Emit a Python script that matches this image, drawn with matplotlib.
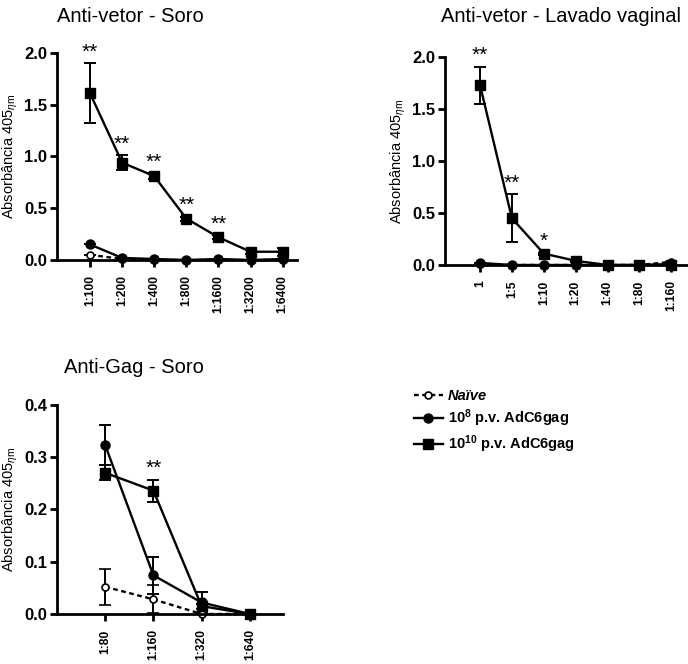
import matplotlib.pyplot as plt
from matplotlib.lines import Line2D

plt.rcParams['font.family'] = ['Liberation Sans', 'DejaVu Sans']
plt.rcParams['mathtext.fontset'] = 'custom'
plt.rcParams['mathtext.rm'] = 'Liberation Sans'
plt.rcParams['mathtext.it'] = 'Liberation Sans:italic'
plt.rcParams['mathtext.bf'] = 'Liberation Sans:bold'

# ---- data ----
soro_labels = ["1:100", "1:200", "1:400", "1:800", "1:1600", "1:3200", "1:6400"]
soro_naive = [0.05, 0.01, 0.0, 0.0, 0.0, 0.0, 0.0]
soro_naive_err = [0.0, 0.0, 0.0, 0.0, 0.0, 0.0, 0.0]
soro_e8 = [0.15, 0.02, 0.01, 0.0, 0.01, 0.0, 0.01]
soro_e8_err = [0.0, 0.0, 0.0, 0.0, 0.0, 0.0, 0.0]
soro_e10 = [1.61, 0.94, 0.81, 0.40, 0.22, 0.08, 0.08]
soro_e10_err = [0.29, 0.07, 0.03, 0.02, 0.02, 0.02, 0.04]
soro_stars = ["**", "**", "**", "**", "**", "", ""]

lav_labels = ["1", "1:5", "1:10", "1:20", "1:40", "1:80", "1:160"]
lav_naive = [0.01, 0.0, 0.0, 0.0, 0.0, 0.0, 0.03]
lav_naive_err = [0.0, 0.0, 0.0, 0.0, 0.0, 0.0, 0.0]
lav_e8 = [0.02, 0.0, 0.0, 0.0, 0.0, 0.0, 0.01]
lav_e8_err = [0.0, 0.0, 0.0, 0.0, 0.0, 0.0, 0.0]
lav_e10 = [1.73, 0.45, 0.11, 0.04, 0.0, 0.0, 0.0]
lav_e10_err = [0.18, 0.23, 0.01, 0.01, 0.0, 0.0, 0.0]
lav_stars = ["**", "**", "*", "", "", "", ""]

gag_labels = ["1:80", "1:160", "1:320", "1:640"]
gag_naive = [0.052, 0.028, 0.0, 0.0]
gag_naive_err = [0.034, 0.027, 0.0, 0.0]
gag_e8 = [0.323, 0.074, 0.022, 0.0]
gag_e8_err = [0.039, 0.035, 0.021, 0.0]
gag_e10 = [0.270, 0.236, 0.015, 0.0]
gag_e10_err = [0.014, 0.021, 0.005, 0.0]
gag_stars = ["", "**", "", ""]

fig = plt.figure(figsize=(6.88, 6.64), dpi=100)


def panel(rect, title, labels, naive, naive_err, e8, e8_err, e10, e10_err,
          stars, ymax, yticks, xlim, title_x, title_y):
    ax = fig.add_axes(rect)
    x = list(range(len(labels)))
    common = dict(color="black", linewidth=1.7, capsize=4.5, elinewidth=1.4,
                  capthick=1.4, clip_on=False)
    ax.errorbar(x, naive, yerr=naive_err, fmt="o", linestyle=(0, (2, 1.5)),
                markersize=5, markerfacecolor="white", markeredgewidth=1.2,
                **common)
    ax.errorbar(x, e8, yerr=e8_err, fmt="o-", markersize=6.5, **common)
    ax.errorbar(x, e10, yerr=e10_err, fmt="s-", markersize=7.5, **common)
    for xi, v, e, s in zip(x, e10, e10_err, stars):
        if s:
            ax.annotate(s, (xi, v + e), xytext=(0, 1), textcoords="offset points",
                        ha="center", va="bottom", fontsize=15)
    ax.set_xlim(*xlim)
    ax.set_ylim(0, ymax)
    ax.set_xticks(x)
    ax.set_xticklabels(labels, rotation=90, fontsize=8.7, fontweight="bold")
    ax.set_yticks(yticks)
    ax.set_yticklabels([f"{t:.1f}" for t in yticks], fontsize=12, fontweight="bold")
    for sp in ["top", "right"]:
        ax.spines[sp].set_visible(False)
    for sp in ["left", "bottom"]:
        ax.spines[sp].set_linewidth(2)
    ax.tick_params(width=2, length=5, direction="out", pad=2)
    ax.tick_params(axis="x", pad=6)
    ax.set_ylabel(r"Absorbância 405$_{\eta\mathrm{m}}$", fontsize=10.5, labelpad=3)
    fig.text(title_x, title_y, title, ha="center", va="center", fontsize=14.5)
    return ax


panel([0.0828, 0.6084, 0.349, 0.312], "Anti-vetor - Soro", soro_labels,
      soro_naive, soro_naive_err, soro_e8, soro_e8_err, soro_e10, soro_e10_err,
      soro_stars, 2.0, [0.0, 0.5, 1.0, 1.5, 2.0], (-1.03, 6.45), 0.19, 0.975)

panel([0.6468, 0.6009, 0.352, 0.313], "Anti-vetor - Lavado vaginal", lav_labels,
      lav_naive, lav_naive_err, lav_e8, lav_e8_err, lav_e10, lav_e10_err,
      lav_stars, 2.0, [0.0, 0.5, 1.0, 1.5, 2.0], (-1.1, 6.5), 0.815, 0.975)

ax3 = panel([0.0828, 0.0753, 0.328, 0.315], "Anti-Gag - Soro", gag_labels,
            gag_naive, gag_naive_err, gag_e8, gag_e8_err, gag_e10, gag_e10_err,
            gag_stars, 0.4, [0.0, 0.1, 0.2, 0.3, 0.4], (-1.0, 3.68), 0.195, 0.446)

handles = [
    Line2D([], [], color="black", linestyle=(0, (2, 1.5)), linewidth=1.7,
           marker="o", markersize=5, markerfacecolor="white", markeredgewidth=1.2),
    Line2D([], [], color="black", linewidth=1.7, marker="o", markersize=6.5),
    Line2D([], [], color="black", linewidth=1.7, marker="s", markersize=7.5),
]
labels = ["Naïve", r"$\mathbf{10^{8}}$ p.v. AdC6gag", r"$\mathbf{10^{10}}$ p.v. AdC6gag"]
leg = fig.legend(handles, labels, loc="upper left", bbox_to_anchor=(0.582, 0.434),
                 frameon=False, handlelength=2.0, handletextpad=0.35,
                 labelspacing=0.3, prop={"weight": "bold", "size": 10.5})
leg.get_texts()[0].set_style("italic")

fig.savefig("out.png", dpi=100)
